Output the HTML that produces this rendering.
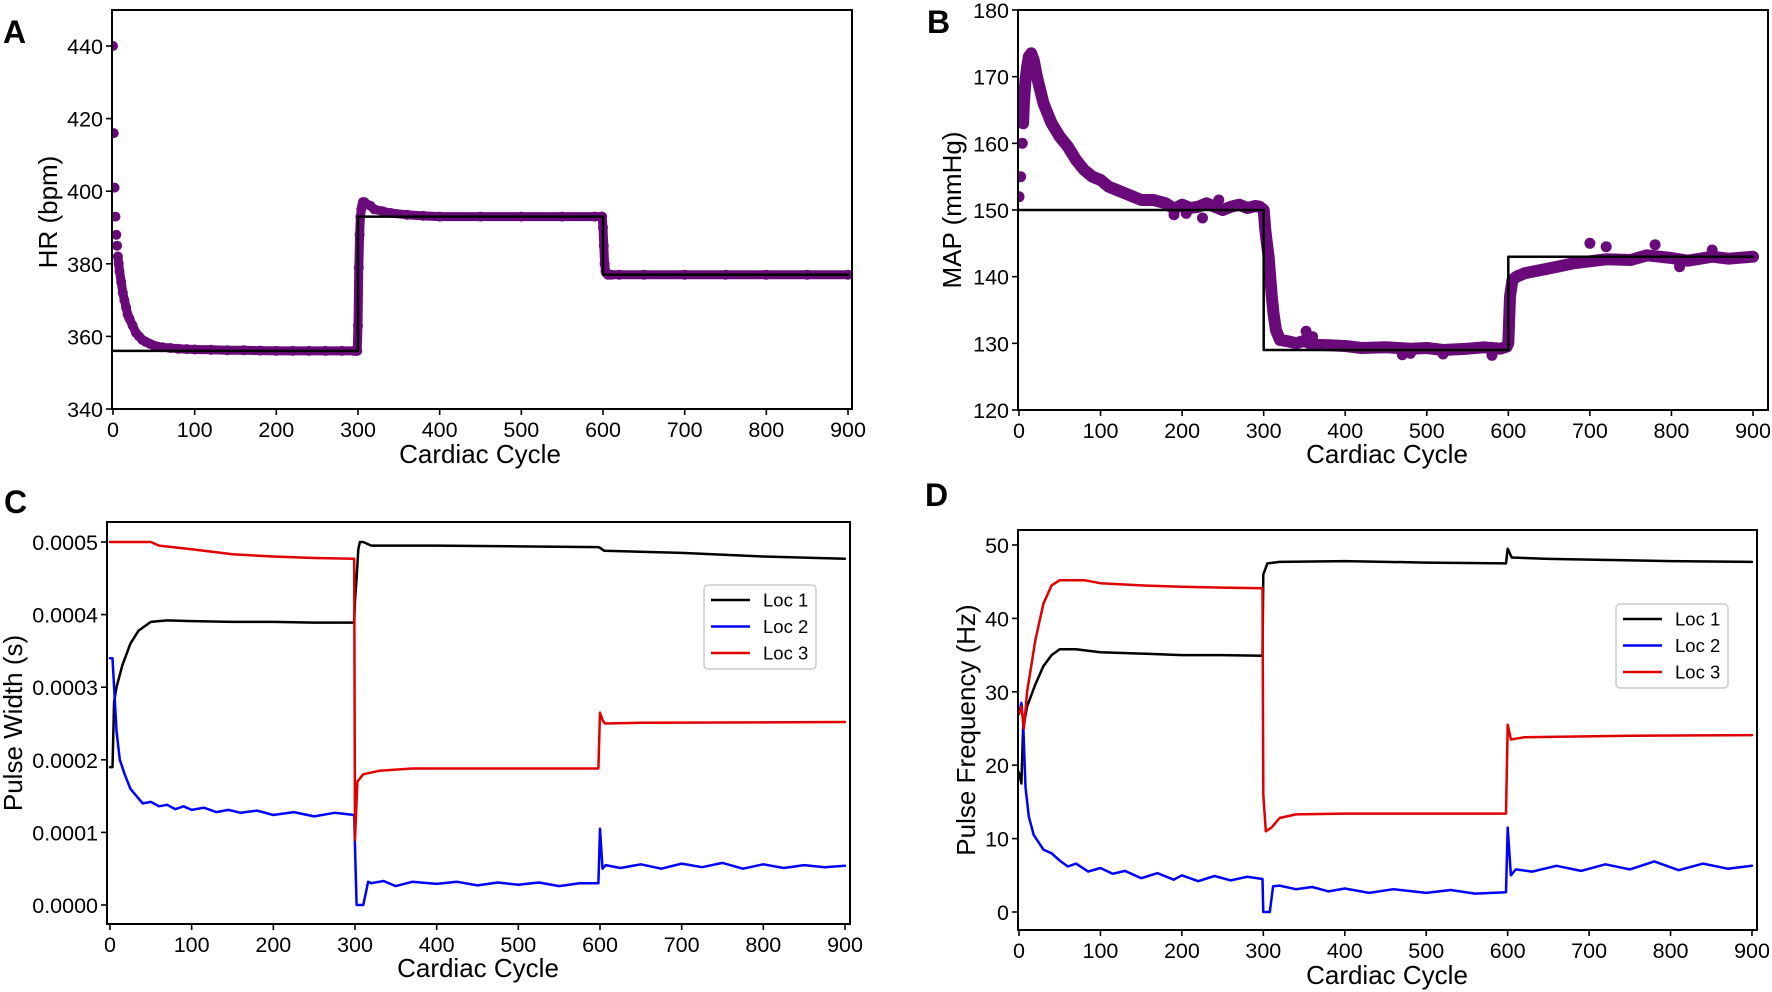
<!DOCTYPE html>
<html><head><meta charset="utf-8">
<style>
html,body{margin:0;padding:0;background:#fff;}
svg{display:block;font-family:"Liberation Sans",Arial,sans-serif;}
</style></head>
<body>
<svg id="fig" width="1772" height="992" viewBox="0 0 1772 992" xmlns="http://www.w3.org/2000/svg">
<text x="3" y="43" font-size="32" font-weight="bold">A</text>
<text x="927" y="33" font-size="32" font-weight="bold">B</text>
<text x="4" y="513" font-size="32" font-weight="bold">C</text>
<text x="925" y="506" font-size="32" font-weight="bold">D</text>
</svg>
<script>
// ---- Panel A data (HR) ----
const hrX = [0,1,2,3,4,5,6,7,8,10,12,14,16,18,20,24,28,32,36,40,45,50,55,60,70,80,90,100,120,140,160,180,200,220,240,260,280,295,298,299,300,301,302,303,304,305,306,308,310,315,320,330,340,360,380,400,450,500,550,590,598,599,600,601,602,603,604,606,610,620,650,700,750,800,850,900];
const hrY = [440,416,401,393,388,385,382,380,378,375,372,370,368,366,365,363,361,360,359,358.5,358,357.5,357.2,357,356.8,356.6,356.5,356.4,356.3,356.2,356.2,356.1,356,356,356,356,356,356,356,356,363,379,388,393,395,396,397,397,396.5,396,395,394.5,394,393.5,393.2,393,393,393,393,393,393,393,390,385,380,378,377.5,377,377,377,377,377,377,377,377,377];
const hrSetX = [0,300,300,600,600,900];
const hrSetY = [356,356,393,393,377,377];
const hrTicksY = [340,360,380,400,420,440];
const xTicks = [0,100,200,300,400,500,600,700,800,900];

// ---- Panel B data (MAP) ----
const mapX = [0,2,4,5,6,8,10,12,15,18,22,26,30,35,40,45,50,60,70,80,90,100,110,120,130,140,150,165,180,190,200,210,220,230,240,250,260,270,280,290,295,300,302,304,306,308,310,312,315,320,330,340,350,360,380,400,420,450,480,500,520,550,570,590,598,600,602,605,610,620,640,660,680,700,720,750,770,800,820,850,870,900];
const mapY = [152,155,160,163,166,169.5,171.5,173,173.5,172.5,170,168,166,164.5,163,162,161,159.5,157.5,156,155,154.5,153.5,153,152.5,152,151.5,151.5,151,150.2,150.8,150.3,150.5,151,150.5,150,150.5,150.8,150.3,150.6,150.5,150,147,145,143,140,137,134.5,132,130.5,130.3,130,130.4,129.8,129.7,129.6,129.3,129.4,129.2,129.3,129,129.2,129.4,129.2,129.5,130,137,139.5,140,140.5,141,141.5,142,142.3,142.6,142.5,143.2,142.8,142.4,143,142.7,143];
const mapOutX = [190,205,225,245,352,360,470,480,520,580,700,720,780,810,850];
const mapOutY = [149.3,149.5,148.8,151.5,131.8,131,128.3,128.5,128.4,128.2,145,144.5,144.8,141.5,144];
const mapSetX = [0,300,300,600,600,900];
const mapSetY = [150,150,129,129,143,143];
const mapTicksY = [120,130,140,150,160,170,180];

// ---- Panel C data (pulse width) ----
const pwX1 = [0,3,5,8,15,25,35,50,70,100,150,200,250,299,300,302,304,306,310,320,400,500,598,600,605,700,800,900];
const pwY1 = [0.00019,0.00019,0.00028,0.0003,0.00033,0.00036,0.000378,0.00039,0.000392,0.000391,0.00039,0.00039,0.000389,0.000389,0.00042,0.00045,0.00049,0.0005,0.0005,0.000495,0.000495,0.000494,0.000493,0.000492,0.000488,0.000485,0.00048,0.000477];
const pwX2 = [0,3,5,8,12,18,25,40,50,60,70,80,90,100,115,130,145,160,180,200,225,250,275,299,300,302,310,313,316,320,335,350,370,400,425,450,475,500,525,550,575,598,600,603,607,625,650,675,700,725,750,775,800,825,850,875,900];
const pwY2 = [0.00034,0.00034,0.0003,0.00024,0.0002,0.00018,0.00016,0.00014,0.000142,0.000136,0.000138,0.000132,0.000136,0.000131,0.000134,0.000128,0.000131,0.000127,0.00013,0.000124,0.000128,0.000122,0.000127,0.000124,0.00008,0,0,0.000015,0.000032,0.00003,0.000033,0.000026,0.000032,0.000029,0.000032,0.000027,0.000031,0.000028,0.000031,0.000026,0.00003,0.00003,0.000105,0.00005,0.000055,0.000051,0.000056,0.00005,0.000057,0.000052,0.000058,0.00005,0.000056,0.000051,0.000055,0.000052,0.000054];
const pwX3 = [0,50,60,100,150,200,250,299,300,303,310,330,370,450,598,600,603,606,650,900];
const pwY3 = [0.0005,0.0005,0.000495,0.00049,0.000483,0.00048,0.000478,0.000477,0.00009,0.00017,0.00018,0.000185,0.000188,0.000188,0.000188,0.000265,0.000255,0.00025,0.000251,0.000252];
const pwTicksY = [0,0.0001,0.0002,0.0003,0.0004,0.0005];
const pwTickLabels = ["0.0000","0.0001","0.0002","0.0003","0.0004","0.0005"];

// ---- Panel D data (pulse frequency) ----
const pfX1 = [0,3,5,10,20,30,40,50,70,100,150,200,250,299,300,305,320,400,500,598,600,605,650,800,900];
const pfY1 = [19,17.5,25,28,31,33.5,35,35.8,35.8,35.4,35.2,35,35,34.9,46,47.5,47.7,47.8,47.6,47.5,49.5,48.3,48.1,47.8,47.7];
const pfX2 = [0,3,5,8,12,18,30,40,50,60,70,85,100,115,130,150,170,190,200,220,240,260,280,299,300,308,312,320,340,360,380,400,430,460,500,530,560,598,600,604,610,630,660,690,720,750,780,810,840,870,900];
const pfY2 = [27,28.5,26,17,13,10.5,8.5,8,7,6.2,6.6,5.5,6,5.2,5.6,4.6,5.3,4.4,5,4.2,4.9,4.3,4.8,4.5,0,0,3.5,3.6,3.1,3.4,2.8,3.2,2.6,3.1,2.6,3,2.5,2.7,11.5,5,5.8,5.5,6.3,5.6,6.5,5.8,6.9,5.7,6.6,5.9,6.3];
const pfX3 = [0,3,6,10,20,30,40,50,80,100,150,200,250,299,300,303,310,320,340,400,500,598,600,604,620,750,900];
const pfY3 = [27,28,25,30,37,42,44.5,45.2,45.2,44.8,44.5,44.3,44.2,44.1,16,11,11.5,12.8,13.3,13.4,13.4,13.4,25.5,23.5,23.8,24,24.1];
const pfTicksY = [0,10,20,30,40,50];

const NS = "http://www.w3.org/2000/svg";
const svg = document.getElementById('fig');
function mk(tag, attrs, parent){ const e=document.createElementNS(NS,tag); for(const k in attrs) e.setAttribute(k,attrs[k]); (parent||svg).appendChild(e); return e; }

function axes(p){
  const g = mk('g',{});
  
  
  p.g = g;
  p.sx = v => p.x0 + (v - 0) * (p.x900 - p.x0) / 900;
  p.sy = v => p.yA + (v - p.vA) * (p.yB - p.yA) / (p.vB - p.vA);
  xTicks.forEach(t=>{
    const x = p.sx(t);
    const tl = mk('line',{x1:x,x2:x,y1:p.bottom,y2:p.bottom+6,stroke:'#000','stroke-width':1.6},g);
    
    
    const tx = mk('text',{x:x,y:p.bottom+28,'font-size':21.5,'text-anchor':'middle'},g);
    tx.textContent = t;
    
    
  });
  p.yTicks.forEach((t,i)=>{
    const y = p.sy(t);
    const tl = mk('line',{x1:p.left-6,x2:p.left,y1:y,y2:y,stroke:'#000','stroke-width':1.6},g);
    
    
    const tx = mk('text',{x:p.left-9,y:y+8,'font-size':21.5,'text-anchor':'end'},g);
    tx.textContent = p.yLabels ? p.yLabels[i] : t;
    
    
  });
  const xt = mk('text',{x:p.xtX,y:p.xtY,'font-size':26,'text-anchor':'middle'},g);
  xt.textContent = 'Cardiac Cycle';
  
  
  const yt = mk('text',{x:0,y:0,'font-size':26,'text-anchor':'middle',transform:`translate(${p.ytX},${p.ytY}) rotate(-90)`},g);
  yt.textContent = p.ytitle;
  
  
  const clip = mk('clipPath',{id:'clip-'+p.name},g);
  mk('rect',{x:p.left,y:p.top,width:p.right-p.left,height:p.bottom-p.top},clip);
  p.plot = mk('g',{'clip-path':`url(#clip-${p.name})`},g);
  
  
  return p;
}
function frame(p){
  const r = mk('rect',{x:p.left,y:p.top,width:p.right-p.left,height:p.bottom-p.top,fill:'none',stroke:'#000','stroke-width':2},p.g);
  
  
}
function line(p, xs, ys, color, w, name){
  const pts = xs.map((x,i)=>p.sx(x).toFixed(1)+','+p.sy(ys[i]).toFixed(1)).join(' ');
  const pl = mk('polyline',{points:pts,fill:'none',stroke:color,'stroke-width':w,'stroke-linejoin':'round','stroke-linecap':'round'},p.plot);
  
  
}
function dots(p, xs, ys, color, r, name){
  const g = mk('g',{fill:color},p.plot);
  
  
  xs.forEach((x,i)=>{
    const c = mk('circle',{cx:p.sx(x).toFixed(1),cy:p.sy(ys[i]).toFixed(1),r:r},g);
    
    
  });
}
function legend(p, bx, by, entries){
  const g = mk('g',{},p.g);
  
  
  mk('rect',{x:bx,y:by,width:112,height:84,rx:4,fill:'#fff',stroke:'#ccc','stroke-width':1.5},g);
  entries.forEach((e,i)=>{
    const y = by+15+i*26.5;
    const eg = mk('g',{},g);
    
    
    mk('line',{x1:bx+7,x2:bx+46,y1:y,y2:y,stroke:e[1],'stroke-width':2.5},eg);
    const t = mk('text',{x:bx+59,y:y+6.5,'font-size':18.5},eg);
    t.textContent = e[0];
  });
}

const purple = '#6a0a7a';
// Panel A
const A = axes({name:'panel-a-hr',left:112,right:852,top:10,bottom:409,x0:113,x900:848,vA:340,yA:409,vB:440,yB:46,yTicks:hrTicksY,ytitle:'HR (bpm)',ytX:57,ytY:212,xtX:480,xtY:463});
line(A,hrX.slice(6),hrY.slice(6),purple,9,'hr-band');
dots(A,hrX,hrY,purple,5,'hr-points');
line(A,hrSetX,hrSetY,'#000',2.5,'hr-setpoint');
frame(A);

// Panel B
const B = axes({name:'panel-b-map',left:1018,right:1768,top:10,bottom:410,x0:1019,x900:1753,vA:120,yA:410,vB:180,yB:10,yTicks:mapTicksY,ytitle:'MAP (mmHg)',ytX:961,ytY:210,xtX:1387,xtY:463});
line(B,mapX.slice(3),mapY.slice(3),purple,12,'map-band');
dots(B,mapX,mapY,purple,5.5,'map-points');
dots(B,mapOutX,mapOutY,purple,5.5,'map-outliers');
line(B,mapSetX,mapSetY,'#000',2.5,'map-setpoint');
frame(B);

// Panel C
const C = axes({name:'panel-c-pulse-width',left:107,right:850,top:522,bottom:924,x0:110,x900:845,vA:0,yA:905,vB:0.0005,yB:542,yTicks:pwTicksY,yLabels:pwTickLabels,ytitle:'Pulse Width (s)',ytX:22,ytY:723,xtX:478,xtY:977});
line(C,pwX1,pwY1,'#000',2.5,'pw-loc1');
line(C,pwX2,pwY2,'#0000ff',2.5,'pw-loc2');
line(C,pwX3,pwY3,'#e00000',2.5,'pw-loc3');
frame(C);
legend(C,704,585,[['Loc 1','#000'],['Loc 2','#0000ff'],['Loc 3','#e00000']]);

// Panel D
const D = axes({name:'panel-d-pulse-frequency',left:1018,right:1757,top:530,bottom:930,x0:1019,x900:1752,vA:0,yA:912,vB:50,yB:545,yTicks:pfTicksY,ytitle:'Pulse Frequency (Hz)',ytX:975,ytY:730,xtX:1387,xtY:984});
line(D,pfX1,pfY1,'#000',2.5,'pf-loc1');
line(D,pfX2,pfY2,'#0000ff',2.5,'pf-loc2');
line(D,pfX3,pfY3,'#e00000',2.5,'pf-loc3');
frame(D);
legend(D,1616,604,[['Loc 1','#000'],['Loc 2','#0000ff'],['Loc 3','#e00000']]);
</script>
</body></html>
